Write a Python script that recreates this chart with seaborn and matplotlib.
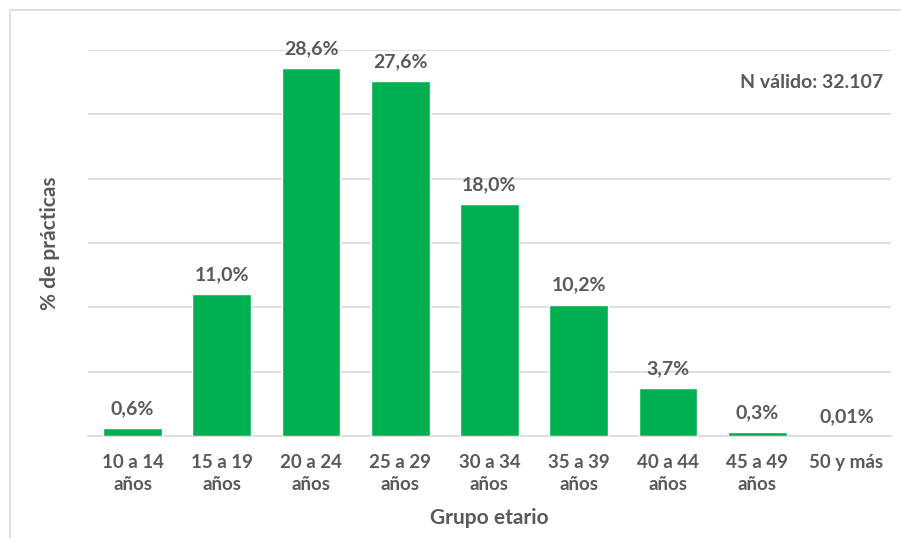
import matplotlib
matplotlib.use("Agg")
import matplotlib.pyplot as plt
import seaborn as sns
import pandas as pd
from matplotlib.patches import Rectangle

grupos = ["10 a 14\naños", "15 a 19\naños", "20 a 24\naños", "25 a 29\naños",
          "30 a 34\naños", "35 a 39\naños", "40 a 44\naños", "45 a 49\naños",
          "50 y más"]
porcentajes = [0.6, 11.0, 28.6, 27.6, 18.0, 10.2, 3.7, 0.3, 0.01]
etiquetas = ["0,6%", "11,0%", "28,6%", "27,6%", "18,0%", "10,2%", "3,7%", "0,3%", "0,01%"]

sns.set_theme(style="white")
plt.rcParams["font.family"] = ["Lato", "DejaVu Sans"]

texto = "#595959"
verde = "#00B050"

df = pd.DataFrame({"grupo": grupos, "pct": porcentajes})

fig = plt.figure(figsize=(9.01, 5.38), dpi=100)
ax = fig.add_axes([88 / 901, 1 - 436 / 538, (891 - 88) / 901, (436 - 50) / 538])

sns.barplot(data=df, x="grupo", y="pct", color=verde, saturation=1,
            width=0.66, ax=ax, zorder=3)

ax.set_ylim(0, 30)
ax.set_yticks(range(0, 31, 5))
ax.yaxis.grid(True, color="#D9D9D9", linewidth=1.2, zorder=0)
ax.set_yticklabels([])
ax.tick_params(axis="y", length=0)
ax.tick_params(axis="x", length=0, labelsize=13.5, labelcolor=texto, pad=13)
for lbl in ax.get_xticklabels():
    lbl.set_fontweight("bold")
    lbl.set_linespacing(1.35)
for s in ["top", "right", "left"]:
    ax.spines[s].set_visible(False)
ax.spines["bottom"].set_color("#D9D9D9")
ax.spines["bottom"].set_linewidth(1.2)

for i, (v, t) in enumerate(zip(porcentajes, etiquetas)):
    ax.annotate(t, (i, v), xytext=(0, 8), textcoords="offset points",
                ha="center", va="bottom", fontsize=14, fontweight="bold",
                color=texto)

ax.set_xlabel("Grupo etario", fontsize=15, fontweight="bold", color=texto,
              labelpad=11)
ax.set_ylabel("% de prácticas", fontsize=15, fontweight="bold", color=texto,
              labelpad=17)

ax.text(0.990, 0.915, "N válido: 32.107", transform=ax.transAxes,
        ha="right", va="center", fontsize=14, fontweight="bold", color=texto)

fig.patches.append(Rectangle((10 / 901, -0.1), 1.2, 1 - 10 / 538 + 0.1,
                             transform=fig.transFigure, fill=False,
                             edgecolor="#D9D9D9", linewidth=1.2))

fig.savefig("out.png", dpi=100)
